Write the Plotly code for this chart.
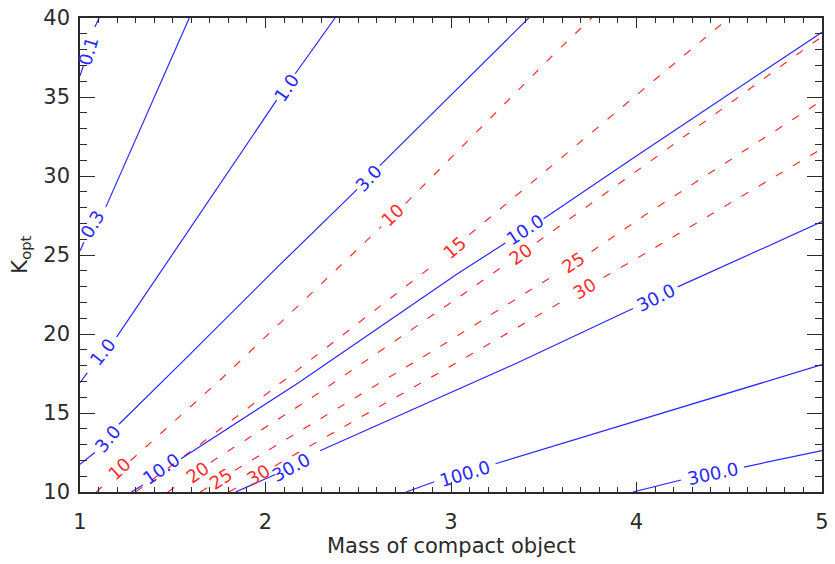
import math
import plotly.graph_objects as go

# ---- axis ranges ----------------------------------------------------------
X_RANGE = [1, 5]
Y_RANGE = [10, 40]
X_TICKS = [1, 2, 3, 4, 5]
Y_TICKS = [10, 15, 20, 25, 30, 35, 40]

# ---- solid (blue) contours: x / y samples, None marks a label gap ----------
blue_0p1_x = [1.000, 1.018, None, 1.080, 1.103]
blue_0p1_y = [36.34, 36.96, None, 39.43, 40.00]
blue_0p1_lx = [1.044]
blue_0p1_ly = [37.89]

blue_0p3_x = [1.000, 1.021, None, 1.139, 1.589]
blue_0p3_y = [25.26, 25.80, None, 28.03, 40.00]
blue_0p3_lx = [1.070]
blue_0p3_ly = [26.97]

blue_1_x = [1.000, 1.039, None, 1.197, 1.739, 2.060, None, 2.160, 2.375]
blue_1_y = [16.92, 17.54, None, 19.80, 29.25, 34.80, None, 36.47, 40.00]
blue_1_lx = [1.123, 2.114]
blue_1_ly = [18.90, 35.61]

blue_3_x = [1.000, 1.080, None, 1.210, 1.553, 2.071, 2.494, None, 2.616, 3.419]
blue_3_y = [11.75, 12.50, None, 14.29, 18.25, 24.31, 29.15, None, 30.66, 40.00]
blue_3_lx = [1.150, 2.553]
blue_3_ly = [13.41, 29.87]

blue_10_x = [1.277, 1.339, None, 1.545, 2.178, 3.035, 3.293, None, 3.499, 3.999, 4.686, 5.000]
blue_10_y = [10.00, 10.45, None, 12.10, 16.92, 23.81, 25.76, None, 27.30, 31.27, 36.65, 39.10]
blue_10_lx = [1.439, 3.399]
blue_10_ly = [11.50, 26.60]

blue_30_x = [1.839, 2.053, None, 2.294, 3.356, 3.981, None, 4.222, 5.000]
blue_30_y = [10.00, 11.11, None, 12.61, 18.16, 21.61, None, 22.98, 27.11]
blue_30_lx = [2.135, 4.106]
blue_30_ly = [11.56, 22.29]

blue_100_x = [2.758, 2.910, None, 3.240, 3.570, 5.000]
blue_100_y = [10.00, 10.65, None, 11.79, 12.96, 18.06]
blue_100_lx = [3.078]
blue_100_ly = [11.19]

blue_300_x = [3.981, 4.240, None, 4.579, 5.000]
blue_300_y = [10.00, 10.76, None, 11.58, 12.62]
blue_300_lx = [4.411]
blue_300_ly = [11.19]

# ---- dashed (red) contours -------------------------------------------------
red_10_x = [1.089, 1.118, None, 1.273, 1.750, 2.431, 2.623, None, 2.756, 3.570, 3.758]
red_10_y = [10.00, 10.33, None, 11.99, 17.03, 24.63, 26.79, None, 28.27, 37.89, 40.00]
red_10_lx = [1.214, 2.687]
red_10_ly = [11.48, 27.56]

red_15_x = [1.300, 1.643, 1.960, 2.928, None, 3.099, 3.570, 4.498]
red_15_y = [10.00, 12.98, 15.80, 24.57, None, 26.29, 30.92, 40.00]
red_15_lx = [3.019]
red_15_ly = [25.49]

red_20_x = [1.473, 1.514, None, 1.705, 2.246, 3.035, 3.276, None, 3.463, 4.070, 4.739, 5.000]
red_20_y = [10.00, 10.33, None, 11.89, 15.94, 22.27, 24.26, None, 25.80, 30.90, 36.61, 38.83]
red_20_lx = [1.633, 3.372]
red_20_ly = [11.25, 25.06]

red_25_x = [1.648, 1.707, None, 1.835, 2.490, 2.981, 3.560, None, 3.758, 4.043, 5.000]
red_25_y = [10.00, 10.42, None, 11.37, 16.00, 19.49, 23.75, None, 25.22, 27.51, 34.78]
red_25_lx = [1.760, 3.661]
red_25_ly = [10.88, 24.51]

red_30_x = [1.803, 1.889, None, 2.050, 2.714, 2.996, 3.624, None, 3.822, 4.008, 5.000]
red_30_y = [10.00, 10.57, None, 11.65, 16.06, 17.95, 22.23, None, 23.58, 24.83, 31.73]
red_30_lx = [1.964, 3.720]
red_30_ly = [11.10, 22.90]

blue_contours = [
    ("0.1", blue_0p1_x, blue_0p1_y, blue_0p1_lx, blue_0p1_ly),
    ("0.3", blue_0p3_x, blue_0p3_y, blue_0p3_lx, blue_0p3_ly),
    ("1.0", blue_1_x, blue_1_y, blue_1_lx, blue_1_ly),
    ("3.0", blue_3_x, blue_3_y, blue_3_lx, blue_3_ly),
    ("10.0", blue_10_x, blue_10_y, blue_10_lx, blue_10_ly),
    ("30.0", blue_30_x, blue_30_y, blue_30_lx, blue_30_ly),
    ("100.0", blue_100_x, blue_100_y, blue_100_lx, blue_100_ly),
    ("300.0", blue_300_x, blue_300_y, blue_300_lx, blue_300_ly),
]
red_contours = [
    ("10", red_10_x, red_10_y, red_10_lx, red_10_ly),
    ("15", red_15_x, red_15_y, red_15_lx, red_15_ly),
    ("20", red_20_x, red_20_y, red_20_lx, red_20_ly),
    ("25", red_25_x, red_25_y, red_25_lx, red_25_ly),
    ("30", red_30_x, red_30_y, red_30_lx, red_30_ly),
]

# ---- layout geometry -------------------------------------------------------
WIDTH, HEIGHT = 835, 564
MARGIN = dict(l=80, r=8, t=6, b=72)
PLOT_W = WIDTH - MARGIN["l"] - MARGIN["r"]
PLOT_H = HEIGHT - MARGIN["t"] - MARGIN["b"]
SX = PLOT_W / (X_RANGE[1] - X_RANGE[0])
SY = PLOT_H / (Y_RANGE[1] - Y_RANGE[0])

FONT = "DejaVu Sans"
BLUE = "rgb(40,40,255)"
RED = "rgb(255,45,45)"
AXIS = "#2a2a2a"


def label_angle(xs, ys, lx, ly):
    """Screen angle of the contour segment closest to a label position."""
    pts = [(x, y) for x, y in zip(xs, ys) if x is not None]
    px, py = lx * SX, ly * SY
    best, best_d = None, float("inf")
    for (x0, y0), (x1, y1) in zip(pts[:-1], pts[1:]):
        ax, ay, bx, by = x0 * SX, y0 * SY, x1 * SX, y1 * SY
        vx, vy = bx - ax, by - ay
        t = max(0.0, min(1.0, ((px - ax) * vx + (py - ay) * vy) / (vx * vx + vy * vy)))
        d = math.hypot(ax + t * vx - px, ay + t * vy - py)
        if d < best_d:
            best_d, best = d, (vx, vy)
    return -math.degrees(math.atan2(best[1], best[0]))


fig = go.Figure()
annotations = []

for contours, color, dash in ((red_contours, RED, "8px,12px"), (blue_contours, BLUE, "solid")):
    for text, xs, ys, lxs, lys in contours:
        fig.add_trace(go.Scatter(
            x=xs, y=ys, mode="lines",
            line=dict(color=color, width=1.2, dash=dash),
            hoverinfo="skip", showlegend=False,
        ))
        for lx, ly in zip(lxs, lys):
            annotations.append(dict(
                x=lx, y=ly, xref="x", yref="y", text=text, showarrow=False,
                textangle=label_angle(xs, ys, lx, ly),
                font=dict(family=FONT, size=18, color=color),
                xanchor="center", yanchor="middle",
            ))

# axis titles
annotations.append(dict(
    x=0.5, y=-0.114, xref="paper", yref="paper", text="Mass of compact object",
    showarrow=False, font=dict(family=FONT, size=21, color=AXIS),
    xanchor="center", yanchor="middle",
))
annotations.append(dict(
    x=-0.08, y=0.5, xref="paper", yref="paper", text="K<sub>opt</sub>",
    showarrow=False, textangle=-90, font=dict(family=FONT, size=21, color=AXIS),
    xanchor="center", yanchor="middle",
))

axis_common = dict(
    showgrid=False, zeroline=False, showline=True, linecolor=AXIS, linewidth=1.5,
    mirror="ticks", ticks="inside", tickcolor=AXIS, tickwidth=1.3,
    tickfont=dict(family=FONT, size=21, color=AXIS),
    ticklabeloverflow="allow",
)

fig.update_layout(
    width=WIDTH, height=HEIGHT, margin=MARGIN,
    paper_bgcolor="white", plot_bgcolor="white",
    xaxis=dict(range=X_RANGE, tickvals=X_TICKS, ticklen=10,
               minor=dict(dtick=0.1, tick0=1, ticklen=5, ticks="inside", tickcolor=AXIS, tickwidth=1.2),
               ticklabelstandoff=10, **axis_common),
    yaxis=dict(range=[Y_RANGE[0], Y_RANGE[1] + 1e-6], tickvals=Y_TICKS, ticklen=15,
               minor=dict(dtick=1, tick0=10, ticklen=7, ticks="inside", tickcolor=AXIS, tickwidth=1.2),
               ticklabelstandoff=4, **axis_common),
    annotations=annotations,
)

fig.write_html("out.html")
